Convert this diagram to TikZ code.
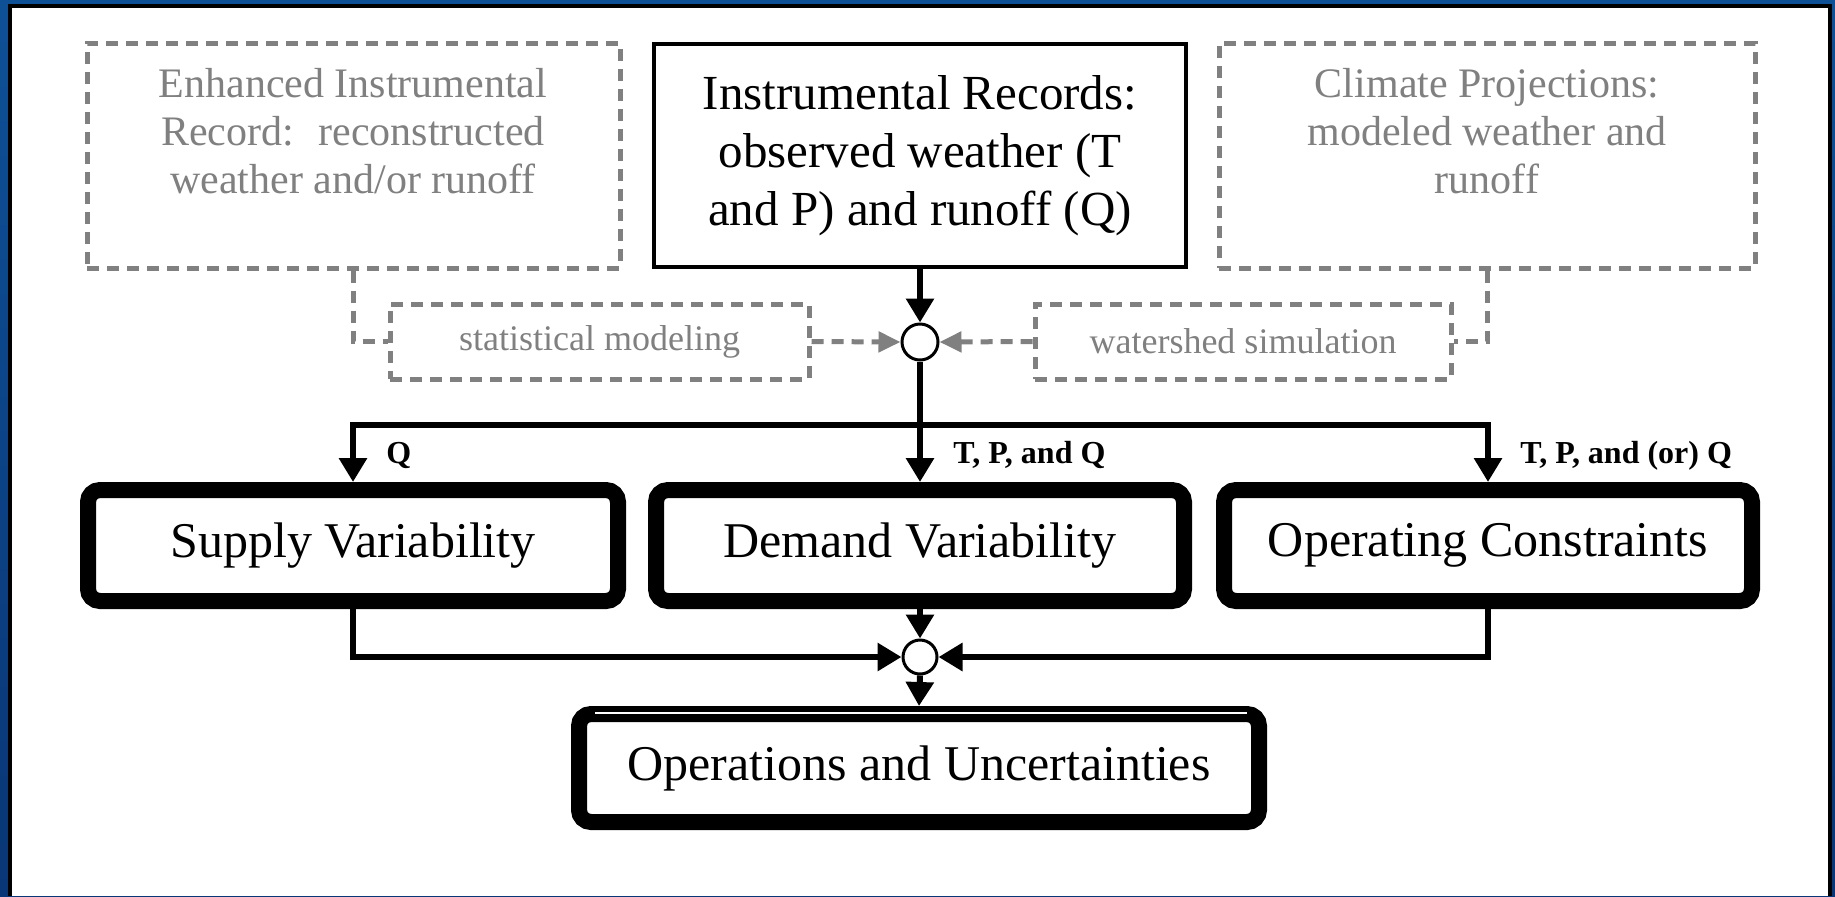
\documentclass[tikz,border=0pt]{standalone}
\usepackage{fontspec}
\setmainfont{Liberation Serif}
\usetikzlibrary{arrows.meta,calc}
\definecolor{frameblue}{RGB}{14,80,150}
\definecolor{frameblueD}{RGB}{9,54,118}
\definecolor{dgray}{RGB}{128,128,128}
\begin{document}
\begin{tikzpicture}[x=0.5pt,y=-0.5pt,
  >={Triangle[length=12pt,width=13.5pt]},
  gbox/.style={draw=dgray, line width=2.5pt, dash pattern=on 6pt off 4pt, inner sep=0pt},
  gtext/.style={text=dgray, align=center, font=\fontsize{21}{24}\selectfont},
  stext/.style={text=dgray, font=\fontsize{18}{20}\selectfont},
  ibox/.style={draw=black, line width=1.75pt, fill=white, inner sep=0pt, align=center,
    font=\fontsize{24.5}{29}\selectfont},
  tbox/.style={draw=black, line width=8pt, rounded corners=6pt, fill=white, inner sep=0pt,
    font=\fontsize{25}{30}\selectfont},
  junc/.style={circle, draw=black, fill=white, line width=1.5pt, minimum size=18pt, inner sep=0pt},
  bline/.style={draw=black, line width=3pt, line join=miter},
  gline/.style={draw=dgray, line width=2.5pt, dash pattern=on 6pt off 4pt},
  garrow/.style={gline, -{Triangle[length=11pt,width=10pt]}},
  lbl/.style={font=\bfseries\fontsize{16}{18}\selectfont, inner sep=0pt, anchor=base west}
]
\useasboundingbox (0,0) rectangle (1835,896);
% frame
\shade[top color=frameblue, bottom color=frameblueD] (0,0) rectangle (1835,896);
\fill[black] (8,4) rectangle (1832,896);
\fill[white] (12,8) rectangle (1828,896);

% top row
\node[gbox, minimum width=266.5pt, minimum height=112.5pt] (enh) at (353.5,155.5) {};
\node[gtext] (enhT) at (353,131) {Enhanced Instrumental\\Record:~ reconstructed\\weather and/or runoff};
\node[ibox, minimum width=266pt, minimum height=111.5pt] (inst) at (920,155.5) {Instrumental Records:\\observed weather (T\\and P) and runoff (Q)};
\node[gbox, minimum width=268pt, minimum height=112.5pt] (clim) at (1487,155.5) {};
\node[gtext] (climT) at (1487,131) {Climate Projections:\\modeled weather and\\runoff};

% modeling row
\node[gbox, stext, minimum width=209.5pt, minimum height=37.5pt] (stat) at (599.5,341.5) {statistical modeling};
\node[gbox, stext, minimum width=208pt, minimum height=37.5pt] (water) at (1243,341.5) {watershed simulation};
\node[junc] (c1) at (920,342) {};

\draw[gline] (enh.south) |- (stat.west);
\draw[gline] (clim.south) |- (water.east);
\draw[garrow] (stat.east) -- (c1.west);
\draw[garrow] (water.west) -- (c1.east);
\draw[bline,->] (inst.south) -- (c1.north);

% middle row
\node[tbox, minimum width=265pt, minimum height=55.5pt] (sup) at (353,545.5) {Supply Variability};
\node[tbox, minimum width=264pt, minimum height=55.5pt] (dem) at (920,545.5) {Demand Variability};
\node[tbox, minimum width=264pt, minimum height=55.5pt] (ope) at (1488,545.5) {Operating Constraints};

\coordinate (bus) at (920,425);
\draw[bline,<->] (sup.north) -- (bus -| sup.north) -- (bus -| ope.north) -- (ope.north);
\draw[bline,->] (c1.south) -- (dem.north);

\node[lbl] (lq) at (386,463) {Q};
\node[lbl] (ltpq) at (953,463) {T, P, and Q};
\node[lbl] (ltpoq) at (1520,463) {T, P, and (or) Q};

% bottom
\node[junc, minimum size=17pt] (c2) at (920,657) {};
\node[tbox, minimum width=340pt, minimum height=54pt] (opu) at (919,768) {Operations and Uncertainties};
\draw[white, line width=1pt] ([xshift=12pt,yshift=-3.5pt]opu.north west) -- ([xshift=-10pt,yshift=-3.5pt]opu.north east);

\draw[bline,->] (dem.south) -- (c2.north);
\draw[bline,->] (sup.south) |- (c2.west);
\draw[bline,->] (ope.south) |- (c2.east);
\draw[bline,->] (c2.south) -- (opu.north);
\end{tikzpicture}
\end{document}
